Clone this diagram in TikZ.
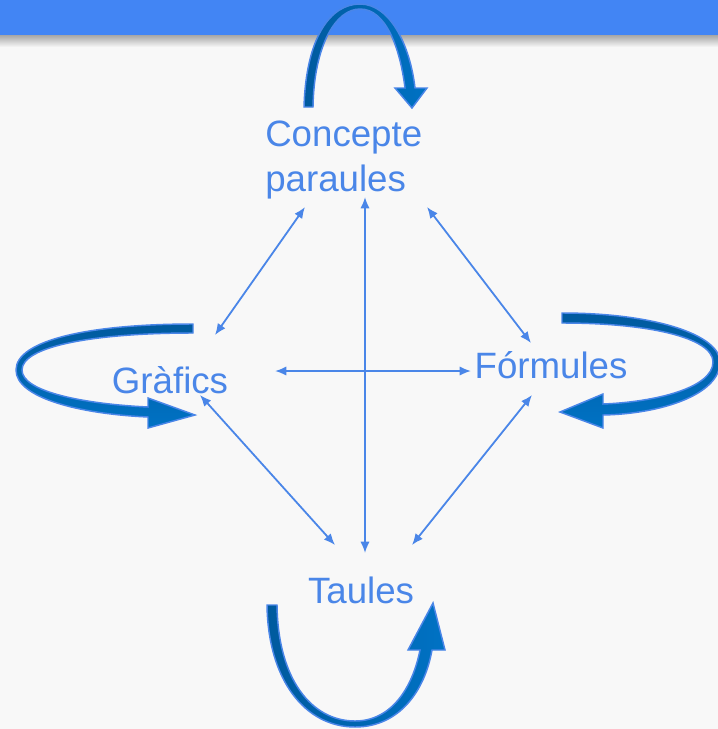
\documentclass[tikz,border=0pt]{standalone}
\usepackage{fontspec}
\setmainfont{Liberation Sans}
\usetikzlibrary{arrows.meta}
\definecolor{bar}{HTML}{4285F4}
\definecolor{bg}{HTML}{F8F8F8}
\definecolor{txt}{HTML}{4A86E8}
\definecolor{cdark}{HTML}{005A9E}
\definecolor{clight}{HTML}{0072C4}
\definecolor{cedge}{HTML}{4A86E8}
\begin{document}
\begin{tikzpicture}[x=0.75pt,y=-0.75pt,
  lbl/.style={text=txt,font=\fontsize{27.5pt}{33.75pt}\selectfont,inner sep=0pt},
  link/.style={draw=txt,line width=1.35pt,{Latex[length=8.5pt,width=7pt]}-{Latex[length=8.5pt,width=7pt]}},
  bendarrow/.style={draw=cedge,line width=1.1pt,line join=miter}]
\useasboundingbox (0,0) rectangle (718,729);
\fill[bg] (0,0) rectangle (718,729);
\shade[top color=black!35,bottom color=bg] (0,35) rectangle (718,47);
\fill[bar] (0,0) rectangle (718,35);

\node[lbl,anchor=base west,align=left] (C) at (265,191) {Concepte\\paraules};
\node[lbl,anchor=base] (G) at (170,393) {Gràfics};
\node[lbl,anchor=base] (F) at (551,378) {Fórmules};
\node[lbl,anchor=base] (T) at (361,603) {Taules};

\draw[link] ([shift={(40,16)}]C.base west) -- ([shift={(45,-58)}]G.base);
\draw[link] ([shift={(162,16)}]C.base west) -- ([shift={(-20,-35)}]F.base);
\draw[link] ([shift={(100,6)}]C.base west) -- ([shift={(4,-50)}]T.base);
\draw[link] ([shift={(105,-22)}]G.base) -- ([shift={(-80,-7)}]F.base);
\draw[link] ([shift={(30,2)}]G.base) -- ([shift={(-26,-58)}]T.base);
\draw[link] ([shift={(-19,17)}]F.base) -- ([shift={(51,-58)}]T.base);

% top curved arrow
\path[bendarrow,left color=cdark,right color=clight]
  (304,107) .. controls (306,38) and (330,4) .. (360,4)
  .. controls (390,4) and (410,45) .. (415,88)
  -- (427,88) -- (412,108) -- (395,88) -- (405,88)
  .. controls (400,48) and (386,9) .. (360,9)
  .. controls (336,9) and (314,45) .. (313,107) -- cycle;
% left curved arrow
\path[bendarrow,top color=cdark,bottom color=clight]
  (193,324) .. controls (90,324) and (16,340) .. (16,370)
  .. controls (16,398) and (80,414) .. (148,417)
  -- (148,428) -- (195,415) -- (148,398) -- (148,407)
  .. controls (85,404) and (22,392) .. (22,370)
  .. controls (22,346) and (95,333) .. (193,333) -- cycle;
% right curved arrow
\path[bendarrow,top color=cdark,bottom color=clight]
  (562,313) .. controls (655,313) and (720,335) .. (720,362)
  .. controls (720,395) and (660,414) .. (603,415)
  -- (603,428) -- (560,412) -- (603,394) -- (603,404)
  .. controls (655,402) and (713,388) .. (713,362)
  .. controls (713,338) and (650,323) .. (562,323) -- cycle;
% bottom curved arrow
\path[bendarrow,left color=cdark,right color=clight]
  (267,605) .. controls (268,680) and (305,727) .. (355,727)
  .. controls (400,727) and (425,690) .. (432,650)
  -- (445,650) -- (433,603) -- (408,650) -- (420,650)
  .. controls (412,690) and (390,721) .. (355,721)
  .. controls (312,721) and (278,680) .. (277,605) -- cycle;
\end{tikzpicture}
\end{document}
